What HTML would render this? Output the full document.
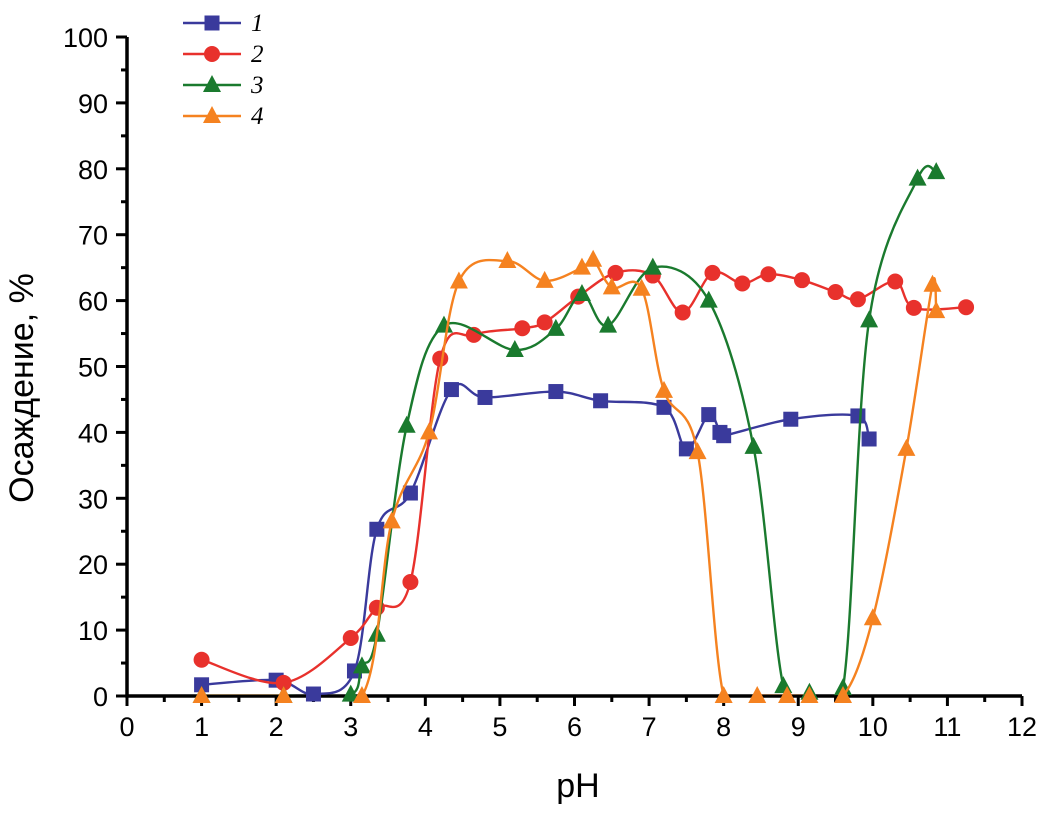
<!DOCTYPE html>
<html><head><meta charset="utf-8"><style>
body{margin:0;background:#fff;width:1054px;height:812px;overflow:hidden}
svg text{font-family:"Liberation Sans",sans-serif}
</style></head><body>
<svg id="chart" width="1054" height="812"></svg>
<script>
const xTicks=[0,1,2,3,4,5,6,7,8,9,10,11,12];
const yTicks=[0,10,20,30,40,50,60,70,80,90,100];
const s1x=[1,2,2.5,3.05,3.35,3.8,4.35,4.8,5.75,6.35,7.2,7.5,7.8,7.95,8.0,8.9,9.8,9.95];
const s1y=[1.7,2.4,0.3,3.8,25.3,30.8,46.5,45.3,46.2,44.8,43.8,37.5,42.7,40,39.5,42,42.5,39];
const s2x=[1,2.1,3,3.35,3.8,4.2,4.65,5.3,5.6,6.05,6.55,7.05,7.45,7.85,8.25,8.6,9.05,9.5,9.8,10.3,10.55,11.25];
const s2y=[5.5,2,8.8,13.4,17.3,51.2,54.8,55.8,56.7,60.6,64.2,63.8,58.2,64.2,62.6,64,63.1,61.3,60.2,62.9,58.9,59];
const s3x=[1,2.1,3,3.15,3.35,3.75,4.25,5.2,5.75,6.1,6.45,7.05,7.8,8.4,8.8,9.15,9.6,9.95,10.6,10.85];
const s3y=[0,0,0.2,4.5,9.3,41,56.2,52.5,55.7,61,56.2,65,60,37.8,1.5,0.5,1.2,57,78.5,79.5];
const s4x=[1,2.1,3.15,3.55,4.05,4.45,5.1,5.6,6.1,6.25,6.5,6.9,7.2,7.65,8,8.45,8.85,9.15,9.6,10,10.45,10.8,10.85];
const s4y=[0,0,0,26.5,40,62.9,66,63,65,66.2,62,61.8,46.3,37,0,0,0,0,0,11.8,37.5,62.4,58.4];
const series=[
 {n:'1',xs:s1x,ys:s1y,c:'#3a3a9c',m:'sq'},
 {n:'2',xs:s2x,ys:s2y,c:'#e8312c',m:'ci'},
 {n:'3',xs:s3x,ys:s3y,c:'#1a7a2e',m:'tr'},
 {n:'4',xs:s4x,ys:s4y,c:'#f58220',m:'tr'}];
const X=v=>127+v*(1022-127)/12, Y=v=>696-v*6.59;
const svg=document.getElementById('chart');const NS='http://www.w3.org/2000/svg';
function el(t,a,p){const e=document.createElementNS(NS,t);for(const k in a)e.setAttribute(k,a[k]);(p||svg).appendChild(e);return e;}
const defs=el('defs',{});const cp=el('clipPath',{id:'plot'},defs);el('rect',{x:X(0),y:0,width:1000,height:Y(0)-1},cp);
xTicks.forEach(t=>{
 el('line',{x1:X(t),x2:X(t),y1:Y(0),y2:Y(0)+10,stroke:'#000','stroke-width':3});
 if(t<12)el('line',{x1:X(t+0.5),x2:X(t+0.5),y1:Y(0),y2:Y(0)+6,stroke:'#000','stroke-width':3});
 const tx=el('text',{x:X(t),y:736,'font-size':27,'text-anchor':'middle'});tx.textContent=t;
 
 
});
yTicks.forEach(t=>{
 el('line',{x1:X(0)-11,x2:X(0),y1:Y(t),y2:Y(t),stroke:'#000','stroke-width':3});
 if(t<100)el('line',{x1:X(0)-6,x2:X(0),y1:Y(t+5),y2:Y(t+5),stroke:'#000','stroke-width':3});
 const tx=el('text',{x:108,y:Y(t)+10,'font-size':27,'text-anchor':'end'});tx.textContent=t;
 
 
});
let ax=el('path',{d:`M${X(0)},${Y(100)}V${Y(0)}H${X(12)}`,stroke:'#000','stroke-width':3.5,fill:'none'});


let xt=el('text',{x:578,y:797,'font-size':34,'text-anchor':'middle'});xt.textContent='pH';


let yt=el('text',{x:33,y:388,'font-size':34,'text-anchor':'middle',transform:'rotate(-90 33 388)'});yt.textContent='Осаждение, %';


function spline(xs,ys){const p=xs.map((x,i)=>[X(x),Y(ys[i])]);let d=`M${p[0][0]},${p[0][1]}`;
 for(let i=0;i<p.length-1;i++){const p0=p[i-1]||p[i],p1=p[i],p2=p[i+1],p3=p[i+2]||p2;
 const c1=[p1[0]+(p2[0]-p0[0])/6,p1[1]+(p2[1]-p0[1])/6],c2=[p2[0]-(p3[0]-p1[0])/6,p2[1]-(p3[1]-p1[1])/6];
 c1[0]=Math.min(Math.max(c1[0],p1[0]),p2[0]);c2[0]=Math.min(Math.max(c2[0],p1[0]),p2[0]);
 d+=`C${c1[0]},${c1[1]} ${c2[0]},${c2[1]} ${p2[0]},${p2[1]}`;}return d;}
function marker(m,x,y,c,g){let e;
 if(m==='sq')e=el('rect',{x:x-7.5,y:y-7.5,width:15,height:15,fill:c},g);
 else if(m==='ci')e=el('circle',{cx:x,cy:y,r:8,fill:c},g);
 else e=el('path',{d:`M${x},${y-10}L${x+9},${y+7}L${x-9},${y+7}Z`,fill:c},g);
 return e;}
series.forEach((s,k)=>{
 const g=el('g',{});
 
 
 el('path',{d:spline(s.xs,s.ys),stroke:s.c,'stroke-width':2.4,fill:'none','clip-path':'url(#plot)'},g);
 s.xs.forEach((x,i)=>{const m=marker(s.m,X(x),Y(s.ys[i]),s.c,g);
  
  });
 const ly=23+k*31;
 const lg=el('g',{});
 
 
 el('line',{x1:183,x2:241,y1:ly,y2:ly,stroke:s.c,'stroke-width':2.4},lg);
 marker(s.m,212,ly,s.c,lg);
 const t=el('text',{x:251,y:ly+8,'font-size':25,'font-style':'italic'},lg);
 t.style.fontFamily='"Liberation Serif",serif';t.textContent=s.n;
});
</script>
</body></html>
